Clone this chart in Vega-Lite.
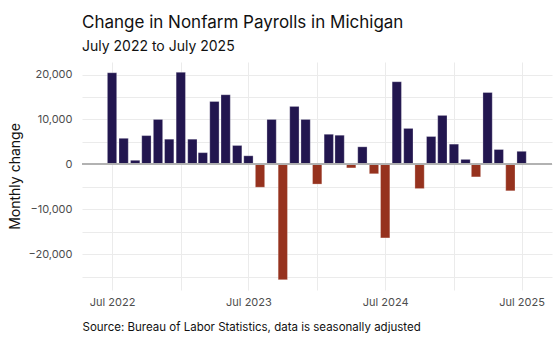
{
  "$schema": "https://vega.github.io/schema/vega-lite/v6.json",
  "width": 470,
  "height": 228,
  "autosize": "none",
  "padding": {"left": 82, "top": 62, "right": 3, "bottom": 50},
  "background": "white",
  "title": {
    "text": "Change in Nonfarm Payrolls in Michigan",
    "subtitle": "July 2022 to July 2025",
    "anchor": "start",
    "frame": "group",
    "font": "Inter",
    "fontSize": 17,
    "fontWeight": "normal",
    "color": "#111111",
    "subtitleFont": "Inter",
    "subtitleFontSize": 14,
    "subtitleColor": "#111111",
    "subtitlePadding": 8,
    "offset": 7
  },
  "config": {
    "view": {"stroke": null},
    "axis": {"labelFont": "Inter", "titleFont": "Inter", "domain": false, "ticks": false, "gridColor": "#ebebeb", "gridWidth": 1}
  },
  "data": {
    "values": [
      {"date": "2022-07-01", "change": 20400},
      {"date": "2022-08-01", "change": 5800},
      {"date": "2022-09-01", "change": 900},
      {"date": "2022-10-01", "change": 6400},
      {"date": "2022-11-01", "change": 10000},
      {"date": "2022-12-01", "change": 5600},
      {"date": "2023-01-01", "change": 20500},
      {"date": "2023-02-01", "change": 5600},
      {"date": "2023-03-01", "change": 2600},
      {"date": "2023-04-01", "change": 14000},
      {"date": "2023-05-01", "change": 15500},
      {"date": "2023-06-01", "change": 4200},
      {"date": "2023-07-01", "change": 1900},
      {"date": "2023-08-01", "change": -5100},
      {"date": "2023-09-01", "change": 10000},
      {"date": "2023-10-01", "change": -25700},
      {"date": "2023-11-01", "change": 12900},
      {"date": "2023-12-01", "change": 10000},
      {"date": "2024-01-01", "change": -4400},
      {"date": "2024-02-01", "change": 6700},
      {"date": "2024-03-01", "change": 6500},
      {"date": "2024-04-01", "change": -800},
      {"date": "2024-05-01", "change": 3900},
      {"date": "2024-06-01", "change": -2100},
      {"date": "2024-07-01", "change": -16400},
      {"date": "2024-08-01", "change": 18400},
      {"date": "2024-09-01", "change": 8000},
      {"date": "2024-10-01", "change": -5400},
      {"date": "2024-11-01", "change": 6200},
      {"date": "2024-12-01", "change": 10900},
      {"date": "2025-01-01", "change": 4500},
      {"date": "2025-02-01", "change": 1100},
      {"date": "2025-03-01", "change": -2800},
      {"date": "2025-04-01", "change": 16000},
      {"date": "2025-05-01", "change": 3300},
      {"date": "2025-06-01", "change": -5900},
      {"date": "2025-07-01", "change": 2900}
    ]
  },
  "layer": [
    {
      "mark": {"type": "bar", "size": 9.3, "stroke": "white", "strokeOpacity": 0.35, "strokeWidth": 0.8},
      "encoding": {
        "x": {
          "field": "date",
          "type": "temporal",
          "scale": {
            "type": "utc",
            "domain": [
              {"year": 2022, "month": 4, "date": 25, "utc": true},
              {"year": 2025, "month": 9, "date": 7, "utc": true}
            ]
          },
          "axis": {
            "values": [
              {"year": 2022, "month": 7, "date": 1, "utc": true},
              {"year": 2023, "month": 1, "date": 1, "utc": true},
              {"year": 2023, "month": 7, "date": 1, "utc": true},
              {"year": 2024, "month": 1, "date": 1, "utc": true},
              {"year": 2024, "month": 7, "date": 1, "utc": true},
              {"year": 2025, "month": 1, "date": 1, "utc": true},
              {"year": 2025, "month": 7, "date": 1, "utc": true}
            ],
            "tickCount": 20,
            "labelExpr": "utcFormat(datum.value, '%m') == '07' ? utcFormat(datum.value, '%b %Y') : ''",
            "labelFontSize": 11,
            "labelColor": "#4d4d4d",
            "labelPadding": 6,
            "labelFlush": false,
            "title": "Source: Bureau of Labor Statistics, data is seasonally adjusted",
            "titleAnchor": "start",
            "titleAlign": "left",
            "titleX": 0,
            "titleY": 40,
            "titleBaseline": "alphabetic",
            "titleFontSize": 11.5,
            "titleFontWeight": "normal",
            "titleColor": "#111111"
          }
        },
        "y": {
          "field": "change",
          "type": "quantitative",
          "scale": {"domain": [-28000, 22800], "nice": false, "zero": false},
          "axis": {
            "values": [-25000, -20000, -15000, -10000, -5000, 0, 5000, 10000, 15000, 20000],
            "tickCount": 20,
            "labelExpr": "datum.value % 10000 == 0 ? format(datum.value, ',.0f') : ''",
            "labelFontSize": 11,
            "labelColor": "#4d4d4d",
            "labelPadding": 10,
            "labelOverlap": false,
            "title": "Monthly change",
            "titleFontSize": 14,
            "titleFontWeight": "normal",
            "titleColor": "#111111",
            "titleX": -74,
            "titleY": 114,
            "titleBaseline": "top",
            "titleAngle": -90
          }
        },
        "color": {
          "condition": {"test": "datum.change < 0", "value": "#96321e"},
          "value": "#22164f"
        }
      }
    },
    {
      "mark": {"type": "rule", "color": "#b3b3b3", "strokeWidth": 1},
      "encoding": {"y": {"datum": 0, "type": "quantitative"}}
    }
  ]
}
